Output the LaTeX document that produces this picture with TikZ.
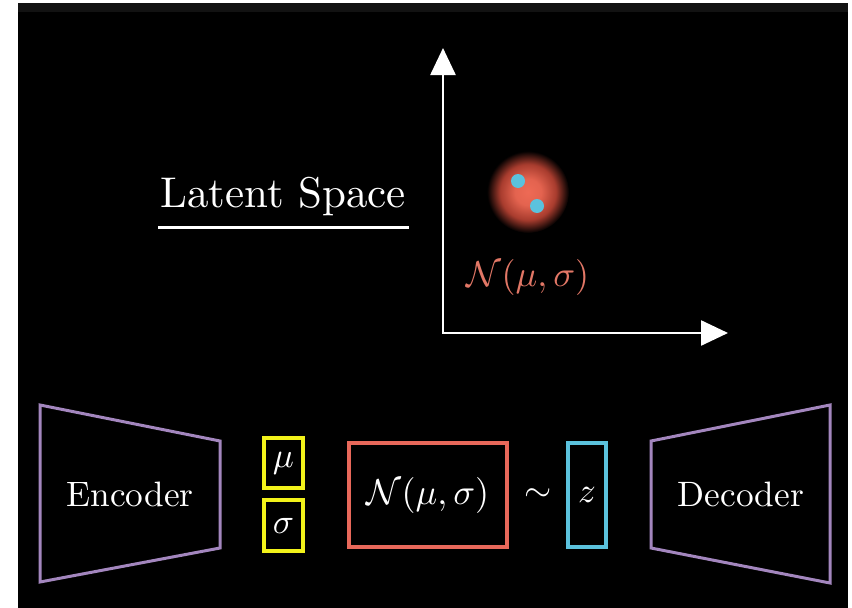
\documentclass[tikz,border=0pt]{standalone}
\usepackage{amsmath,amssymb}
\usepackage{graphicx}
\usepackage{xcolor}
\usepackage{tikz}
\usetikzlibrary{arrows.meta,positioning}
\definecolor{purplex}{HTML}{A386BE}
\definecolor{yellowx}{HTML}{F2F21A}
\definecolor{redx}{HTML}{E8685A}
\definecolor{bluex}{HTML}{5BC2DD}
\definecolor{salmonx}{HTML}{E27766}
\definecolor{glowa}{HTML}{EE6A55}
\definecolor{glowb}{HTML}{A83C2E}
\definecolor{stripx}{HTML}{121212}
\pgfdeclareradialshading{glow}{\pgfpoint{0bp}{0bp}}{%
  color(0bp)=(glowa); color(8bp)=(glowa!85!glowb); color(17bp)=(glowb); color(25bp)=(black); color(50bp)=(black)}
\tikzset{
  net/.style={draw=purplex,line width=3pt,line join=miter},
  box/.style={draw,line width=3.5pt,inner sep=0pt,text=white},
  ax/.style={white,line width=2.5pt,{Triangle[length=27pt,width=25pt]}-{Triangle[length=27pt,width=25pt]}},
  txt/.style={text=white,inner sep=0pt}
}

\begin{document}
\begin{tikzpicture}[x=1pt,y=-1pt]
\useasboundingbox (0,0) rectangle (852,608);
\fill[white] (0,0) rectangle (852,608);
\fill[stripx] (18,3) rectangle (848,12);
\fill[black] (18,12) rectangle (848,608);
% latent space
\node[txt,scale=4.3,anchor=base] (title) at (283,207) {Latent Space};
\draw[white,line width=3pt] (158,227) -- (409,227);
\coordinate (org) at (443,333);
\coordinate (ytip) at (443,48);
\coordinate (xtip) at (728,333);
\draw[ax] (ytip) |- (xtip);
\shade[shading=glow] (528,192) circle (41);
\fill[bluex] (518,181) circle (7) (537,206) circle (7);
\node[txt,scale=3.6,text=salmonx] (dist) at (528,277) {$\mathcal{N}(\mu,\sigma)$};
% encoder / decoder
\draw[net] (40,405) -- (220,441) -- (220,548) -- (40,582) -- cycle;
\node[txt,scale=3.53] (enc) at (130,494) {Encoder};
\draw[net] (651,441) -- (830,405) -- (830,583) -- (651,548) -- cycle;
\node[txt,scale=3.53] (dec) at (741,494) {Decoder};
% latent vector
\node[box,draw=yellowx,line width=4pt,minimum width=39pt,minimum height=50pt] (mu) at (283.5,463) {\scalebox{3.5}{$\mu$}};
\node[box,draw=yellowx,line width=4pt,minimum width=39pt,minimum height=51pt] (sig) at (283.5,525.5) {\scalebox{3.5}{$\sigma$}};
\node[box,draw=redx,minimum width=158pt,minimum height=104pt] (norm) at (428,495) {\scalebox{3.6}{$\mathcal{N}(\mu,\sigma)$}};
\node[txt,scale=3.5] (sim) at (538,495) {$\sim$};
\node[box,draw=bluex,minimum width=38pt,minimum height=104pt] (z) at (587,495) {\scalebox{3.5}{$z$}};
\end{tikzpicture}
\end{document}
